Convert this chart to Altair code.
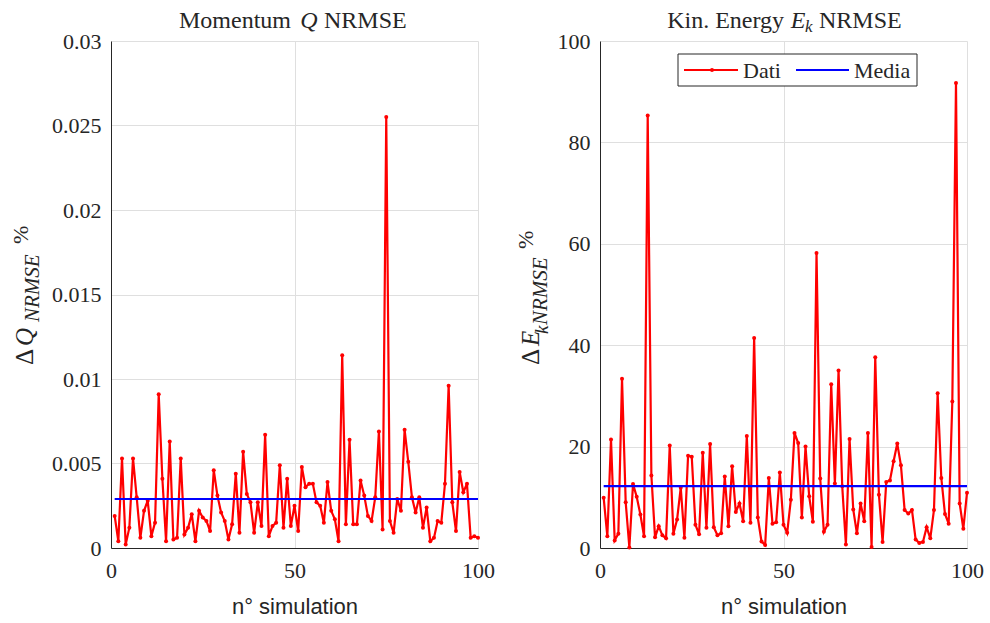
import altair as alt
import pandas as pd

# ---------------- data ----------------
sim = list(range(1, 101))

dq_nrmse = [
    0.0019, 0.0004, 0.0053, 0.0002, 0.0012, 0.0053, 0.0030, 0.0006, 0.0022, 0.0028,
    0.0007, 0.0015, 0.0091, 0.0041, 0.0004, 0.0063, 0.0005, 0.0006, 0.0053, 0.0008,
    0.0012, 0.0020, 0.0004, 0.0022, 0.0018, 0.0016, 0.0010, 0.0046, 0.0031, 0.0021,
    0.0016, 0.0005, 0.0014, 0.0044, 0.0009, 0.0057, 0.0032, 0.0027, 0.0009, 0.0027,
    0.0013, 0.0067, 0.0007, 0.0013, 0.0015, 0.0049, 0.0012, 0.0041, 0.0013, 0.0025,
    0.0010, 0.0048, 0.0036, 0.0038, 0.0038, 0.0027, 0.0025, 0.0015, 0.0039, 0.0022,
    0.0017, 0.0004, 0.0114, 0.0014, 0.0064, 0.0014, 0.0014, 0.0040, 0.0031, 0.0019,
    0.0016, 0.0030, 0.0069, 0.0011, 0.0255, 0.0016, 0.0009, 0.0029, 0.0022, 0.0070,
    0.0051, 0.0030, 0.0021, 0.0030, 0.0012, 0.0024, 0.0004, 0.0006, 0.0016, 0.0015,
    0.0038, 0.0096, 0.0027, 0.0010, 0.0045, 0.0033, 0.0038, 0.0006, 0.0007, 0.0006,
]

dek_nrmse = [
    9.9, 2.3, 21.4, 1.5, 2.8, 33.4, 9.0, 0.1, 12.6, 10.1,
    6.6, 2.3, 85.3, 14.3, 2.1, 4.3, 2.5, 1.9, 20.2, 2.8,
    5.6, 11.9, 2.0, 18.2, 18.0, 4.6, 2.7, 18.8, 4.0, 20.5,
    4.1, 2.5, 2.9, 14.1, 4.3, 16.1, 7.1, 8.8, 5.3, 22.1,
    5.0, 41.4, 6.0, 1.3, 0.6, 13.8, 4.8, 5.1, 14.9, 4.6,
    3.0, 9.5, 22.7, 20.7, 6.0, 20.0, 10.2, 5.2, 58.2, 13.7,
    3.2, 4.6, 32.3, 12.7, 35.0, 12.2, 0.7, 21.5, 7.6, 2.9,
    8.8, 5.3, 22.7, 0.2, 37.6, 10.5, 1.2, 13.0, 13.3, 17.1,
    20.6, 16.3, 7.5, 6.8, 7.5, 1.7, 1.0, 1.2, 4.1, 1.9,
    7.5, 30.5, 13.8, 6.7, 4.8, 28.9, 91.7, 8.8, 3.8, 10.9,
]

mean_dq = 0.0029
mean_dek = 12.2
mean_span = [1, 100]

x_ticks = [0, 50, 100]
q_ticks = [0, 0.005, 0.01, 0.015, 0.02, 0.025, 0.03]
e_ticks = [0, 20, 40, 60, 80, 100]

legend_labels = ["Dati", "Media"]

# ---------------- style ----------------
SERIF = "Liberation Serif"
SANS = "Liberation Sans"
INK = "#262626"
GRID = "#dfdfdf"
RED = "#ff0000"
BLUE = "#0000ff"
W, H = 367, 507


def x_enc(field="sim"):
    return alt.X(
        f"{field}:Q",
        scale=alt.Scale(domain=[0, 100], nice=False, zero=False),
        axis=alt.Axis(
            values=x_ticks, format="d", labelFont=SERIF, labelFontSize=22,
            labelColor=INK, labelPadding=12, labelFlush=False, ticks=False,
            tickSize=0, domainColor=INK, domainWidth=1, gridColor=GRID,
            title="n° simulation", titleFont=SANS, titleFontSize=22,
            titleFontWeight="normal", titleColor=INK, titlePadding=15,
        ),
    )


def y_enc(ymax, ticks, fmt):
    return alt.Y(
        "v:Q",
        scale=alt.Scale(domain=[0, ymax], nice=False, zero=True),
        axis=alt.Axis(
            values=ticks, format=fmt, labelFont=SERIF, labelFontSize=22,
            labelColor=INK, labelPadding=10, ticks=False, tickSize=0,
            domainColor=INK, domainWidth=1, gridColor=GRID, title=None,
        ),
    )


def one():
    return alt.Chart(pd.DataFrame({"a": [0]}))


def txt(text, x, y, size=24, italic=False, angle=0, align="left",
        baseline="middle"):
    kw = dict(text=text, font=SERIF, fontSize=size, color=INK, align=align,
              baseline=baseline)
    if italic:
        kw["fontStyle"] = "italic"
    if angle:
        kw["angle"] = angle
    return one().mark_text(**kw).encode(x=alt.value(x), y=alt.value(y))


def panel(values, mean, ymax, ticks, fmt, title_parts, ytitle_parts, extra):
    df = pd.DataFrame({"sim": sim, "v": values})
    line = alt.Chart(df).mark_line(
        color=RED, strokeWidth=2.2,
        point=alt.OverlayMarkDef(color=RED, filled=True, size=16),
    ).encode(x=x_enc(), y=y_enc(ymax, ticks, fmt))
    mdf = pd.DataFrame({"sim": [mean_span[0]], "sim_end": [mean_span[1]],
                        "v": [mean]})
    rule = alt.Chart(mdf).mark_rule(color=BLUE, strokeWidth=2.2).encode(
        x=x_enc(), x2="sim_end:Q", y=y_enc(ymax, ticks, fmt))
    layers = [line, rule]
    layers += [txt(*p[:3], **p[3]) for p in title_parts]
    layers += [txt(*p[:3], **p[3]) for p in ytitle_parts]
    layers += extra
    return alt.layer(*layers).properties(width=W, height=H)


def anchor(x, y):
    return one().mark_rule(color="white", opacity=0, strokeWidth=0.5).encode(
        x=alt.value(x), x2=alt.value(x + 1), y=alt.value(y))


T = dict(size=24, baseline="alphabetic")
left = panel(
    dq_nrmse, mean_dq, 0.03, q_ticks, "~g",
    [("Momentum", 180, -13, dict(T, align="right")),
     ("Q", 198, -13, dict(T, align="center", italic=True)),
     ("NRMSE", 213, -13, dict(T, align="left"))],
    [("Δ", -86, 324, dict(size=25, angle=270)),
     ("Q", -86, 305, dict(size=25, angle=270, italic=True)),
     ("NRMSE", -78, 281, dict(size=21, angle=270, italic=True)),
     ("%", -90, 203, dict(size=22, angle=270))],
    [anchor(-111, -41)],
)

legend_layers = [
    one().mark_rect(fill="white", stroke=INK, strokeWidth=1).encode(
        x=alt.value(78), x2=alt.value(317), y=alt.value(13), y2=alt.value(45)),
    one().mark_rule(color=RED, strokeWidth=2.2).encode(
        x=alt.value(84), x2=alt.value(138), y=alt.value(29)),
    one().mark_point(color=RED, filled=True, size=16, opacity=1).encode(
        x=alt.value(112), y=alt.value(29)),
    one().mark_rule(color=BLUE, strokeWidth=2.2).encode(
        x=alt.value(196), x2=alt.value(249), y=alt.value(29)),
    txt(legend_labels[0], 143, 30, size=22),
    txt(legend_labels[1], 254, 30, size=22),
]

right = panel(
    dek_nrmse, mean_dek, 100, e_ticks, "d",
    [("Kin. Energy", 184, -13, dict(T, align="right")),
     ("E", 198, -13, dict(T, align="center", italic=True)),
     ("k", 205, -9, dict(size=17, baseline="alphabetic", italic=True)),
     ("NRMSE", 219, -13, dict(T, align="left"))],
    [("Δ", -69, 324, dict(size=25, angle=270)),
     ("E", -69, 305, dict(size=25, angle=270, italic=True)),
     ("k", -58, 293, dict(size=19, angle=270, italic=True)),
     ("NRMSE", -59, 284, dict(size=21, angle=270, italic=True)),
     ("%", -74, 208, dict(size=22, angle=270))],
    legend_layers + [anchor(389, 582)],
)

chart = (
    alt.hconcat(left, right, spacing=122, bounds="flush")
    .properties(padding=0, background="white")
    .configure_view(stroke=None)
    .configure_axis(labelFont=SERIF, labelFontSize=22, labelColor=INK)
    .configure_text(font=SERIF)
)

chart.save("out.html", embed_options={"renderer": "svg", "actions": False})
